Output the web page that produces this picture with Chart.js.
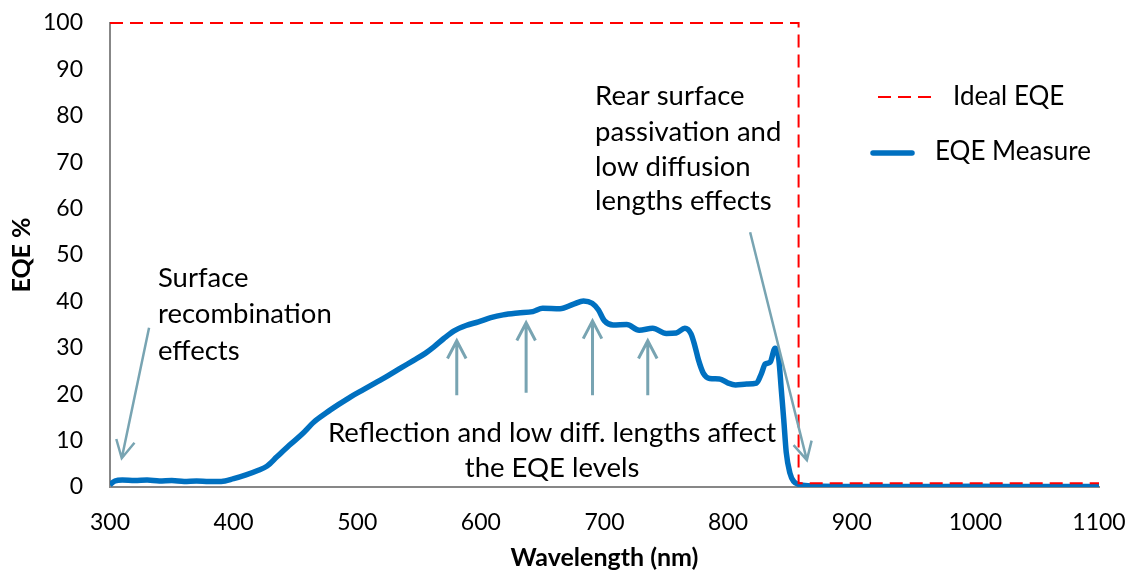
<!DOCTYPE html>
<html>
<head>
<meta charset="utf-8">
<title>EQE</title>
<script src="https://cdn.jsdelivr.net/npm/chart.js@4.4.1/dist/chart.umd.min.js"></script>
<style>
    html, body { margin: 0; padding: 0; background: #fff; }
    #wrap { width: 1138px; height: 578px; position: relative; }
</style>
</head>
<body>
<div id="wrap"><canvas id="eqeChart"></canvas></div>
<script>
// Measured external quantum efficiency (wavelength in nm, EQE in %)
var wavelengths = [300, 304, 310, 320, 330, 340, 350, 360, 370, 380, 390, 400, 410, 420, 427,
    435, 445, 455, 465, 475, 485, 495, 505, 515, 525, 535, 545, 555, 562, 570, 578, 588, 598,
    608, 618, 630, 642, 650, 664, 675, 683, 690, 695, 700, 707, 718, 728, 739, 750, 758, 765,
    770, 773, 776, 780, 785, 793, 800, 806, 815, 823, 827, 830, 834, 838, 841, 843, 845, 847,
    850, 853, 858, 870, 900, 950, 1000, 1050, 1100];
var eqeMeasure = [0.5, 1.3, 1.5, 1.4, 1.5, 1.3, 1.4, 1.2, 1.3, 1.2, 1.2, 1.8, 2.6, 3.6, 4.5,
    6.5, 9.0, 11.3, 14.0, 16.0, 17.8, 19.5, 21.0, 22.5, 24.0, 25.6, 27.2, 28.8, 30.2, 32.0, 33.6, 34.8, 35.6,
    36.5, 37.1, 37.5, 37.8, 38.5, 38.4, 39.4, 40.1, 39.6, 38.2, 35.8, 34.9, 35.0, 33.8, 34.2, 33.1, 33.2, 34.2,
    33.0, 30.5, 27.4, 24.5, 23.4, 23.3, 22.4, 22.0, 22.2, 22.4, 24.5, 26.5, 26.9, 29.9, 27.5, 21.0, 14.5, 7.5,
    3.0, 1.2, 0.5, 0.2, 0.1, 0.1, 0.15, 0.1, 0.1];

// Ideal EQE: step down at the band edge
var idealWavelengths = [300, 857, 857, 1100];
var idealEqe = [100, 100, 0.8, 0.8];

var xTicks = [300, 400, 500, 600, 700, 800, 900, 1000, 1100];

function toPoints(xs, ys) {
    return xs.map(function (x, i) { return { x: x, y: ys[i] }; });
}

var FONT = 'Lato, "Open Sans", sans-serif';
var ARROW = '#78a4b2';

// Annotation texts and arrows, in data coordinates
var notes = [
    { lines: ["Surface", "recombination", "effects"], x: 338.8, y: [43.1, 35.3, 27.4], align: "left" },
    { lines: ["Rear surface", "passivation and", "low diffusion", "lengths effects"], x: 692.4, y: [82.3, 74.6, 67.0, 59.7], align: "left" },
    { lines: ["Reflection and low diff. lengths affect", "the EQE levels"], x: 657.6, y: [9.7, 2.2], align: "center" }
];
var arrows = [
    { from: [331.6, 34.3], to: [309.5, 6.2], width: 2.5 },
    { from: [580.5, 19.8], to: [580.5, 31.5], width: 3 },
    { from: [636.6, 20.3], to: [636.6, 35.4], width: 3 },
    { from: [690.3, 19.8], to: [690.3, 35.8], width: 3 },
    { from: [735.0, 19.8], to: [735.0, 31.5], width: 3 },
    { from: [817.8, 54.9], to: [863.7, 5.8], width: 2.5 }
];

var annotationPlugin = {
    id: "annotations",
    afterDraw: function (chart) {
        var ctx = chart.ctx;
        var xs = chart.scales.x, ys = chart.scales.y;
        ctx.save();

        // arrows
        ctx.strokeStyle = ARROW;
        ctx.lineCap = "butt";
        arrows.forEach(function (a) {
            var x1 = xs.getPixelForValue(a.from[0]), y1 = ys.getPixelForValue(a.from[1]);
            var x2 = xs.getPixelForValue(a.to[0]), y2 = ys.getPixelForValue(a.to[1]);
            var ang = Math.atan2(y2 - y1, x2 - x1);
            var len = 20, spread = Math.PI / 6.5;
            ctx.lineWidth = a.width;
            ctx.beginPath();
            ctx.moveTo(x1, y1);
            ctx.lineTo(x2, y2);
            ctx.moveTo(x2 - len * Math.cos(ang - spread), y2 - len * Math.sin(ang - spread));
            ctx.lineTo(x2, y2);
            ctx.lineTo(x2 - len * Math.cos(ang + spread), y2 - len * Math.sin(ang + spread));
            ctx.stroke();
        });

        // texts
        ctx.fillStyle = "#000";
        ctx.font = "27.5px " + FONT;
        ctx.textBaseline = "alphabetic";
        notes.forEach(function (n) {
            ctx.textAlign = n.align;
            n.lines.forEach(function (line, i) {
                ctx.fillText(line, xs.getPixelForValue(n.x), ys.getPixelForValue(n.y[i]));
            });
        });

        // legend
        var ds = chart.data.datasets;
        ctx.font = "26px " + FONT;
        ctx.textAlign = "left";
        ctx.strokeStyle = ds[0].borderColor;
        ctx.lineWidth = ds[0].borderWidth;
        ctx.setLineDash(ds[0].borderDash);
        ctx.beginPath();
        ctx.moveTo(878, 97);
        ctx.lineTo(932, 97);
        ctx.stroke();
        ctx.setLineDash([]);
        ctx.fillText(ds[0].label, 953, 105);

        ctx.strokeStyle = ds[1].borderColor;
        ctx.lineWidth = ds[1].borderWidth;
        ctx.lineCap = "round";
        ctx.beginPath();
        ctx.moveTo(873, 153);
        ctx.lineTo(912, 153);
        ctx.stroke();
        ctx.fillText(ds[1].label, 935, 160);

        ctx.restore();
    }
};

var ctx = document.getElementById("eqeChart").getContext("2d");
var chart = new Chart(ctx, {
    type: "line",
    data: {
        datasets: [
            {
                label: "Ideal EQE",
                data: toPoints(idealWavelengths, idealEqe),
                borderColor: "#ff0000",
                borderWidth: 2,
                borderDash: [13, 7],
                pointRadius: 0,
                tension: 0,
                clip: false
            },
            {
                label: "EQE Measure",
                data: toPoints(wavelengths, eqeMeasure),
                borderColor: "#0070c0",
                borderWidth: 5.5,
                pointRadius: 0,
                cubicInterpolationMode: "monotone",
                borderJoinStyle: "round"
            }
        ]
    },
    options: {
        responsive: true,
        maintainAspectRatio: false,
        animation: false,
        layout: { padding: { left: 0, right: 39, top: 23, bottom: 0 } },
        plugins: {
            legend: { display: false },
            tooltip: { enabled: false }
        },
        scales: {
            x: {
                type: "linear",
                min: 300,
                max: 1100,
                afterBuildTicks: function (scale) {
                    scale.ticks = xTicks.map(function (v) { return { value: v }; });
                },
                afterFit: function (scale) {
                    scale.height = 91;
                    scale.paddingLeft = 0;
                    scale.paddingRight = 0;
                },
                grid: { display: false, drawTicks: false },
                border: { display: true, color: "#878787", width: 2 },
                ticks: {
                    padding: 22,
                    color: "#000",
                    font: { family: FONT, size: 23 },
                    callback: function (v) { return String(v); }
                },
                title: {
                    display: true,
                    text: "Wavelength (nm)",
                    color: "#000",
                    font: { family: FONT, size: 25, weight: "bold" },
                    padding: { top: 0, bottom: 5 }
                }
            },
            y: {
                min: 0,
                max: 100,
                afterFit: function (scale) {
                    scale.width = 110;
                    scale.paddingTop = 0;
                    scale.paddingBottom = 0;
                },
                grid: { display: false, drawTicks: false },
                border: { display: true, color: "#878787", width: 2 },
                ticks: { stepSize: 10, padding: 27, color: "#000", font: { family: FONT, size: 23 } },
                title: {
                    display: true,
                    text: "EQE %",
                    color: "#000",
                    font: { family: FONT, size: 25, weight: "bold" },
                    padding: { top: 7, bottom: 0 }
                }
            }
        }
    },
    plugins: [annotationPlugin]
});
</script>
</body>
</html>
